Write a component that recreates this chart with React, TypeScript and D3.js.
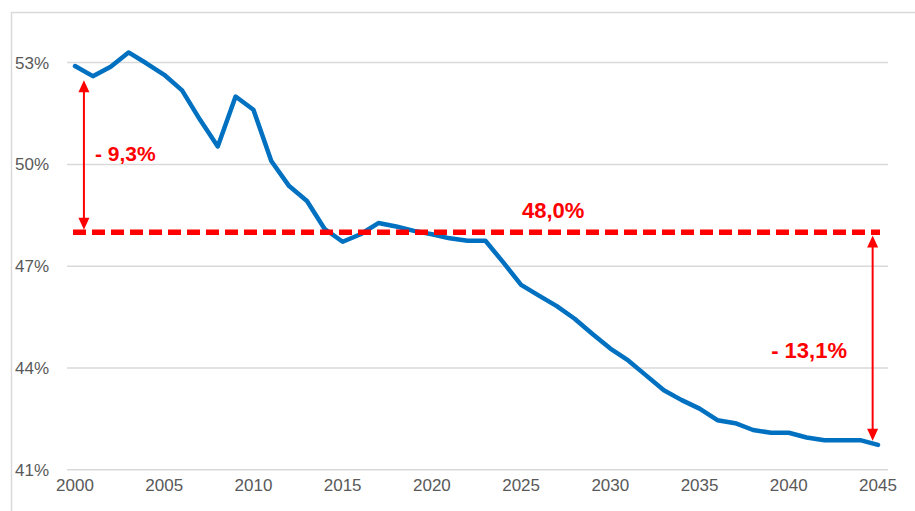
import React from 'react';
import * as d3 from 'd3';

const years = d3.range(2000, 2046);
const shares = [
  52.9, 52.6, 52.88, 53.3, 52.98, 52.64, 52.18, 51.32, 50.53, 52.0,
  51.61, 50.1, 49.36, 48.92, 48.09, 47.72, 47.94, 48.27, 48.17, 48.04,
  47.94, 47.82, 47.75, 47.75, 47.11, 46.45, 46.13, 45.82, 45.45, 45.0,
  44.57, 44.22, 43.78, 43.34, 43.05, 42.8, 42.46, 42.37, 42.17, 42.09,
  42.09, 41.95, 41.87, 41.87, 41.87, 41.73,
];
const yTicks = [41, 44, 47, 50, 53];
const xTicks = [2000, 2005, 2010, 2015, 2020, 2025, 2030, 2035, 2040, 2045];
const baseline = 48.0;
const baseLabel = '48,0%';
const leftDrop = { year: 2000.5, from: 52.48, to: 48.07, label: '- 9,3%' };
const rightDrop = { year: 2044.7, from: 47.9, to: 41.85, label: '- 13,1%' };

const W = 915;
const H = 511;
const BLUE = '#0070C0';
const RED = '#FF0000';
const GRID = '#D9D9D9';
const TEXT = '#595959';
const FONT = '"Liberation Sans", Arial, sans-serif';

const x = d3.scaleLinear().domain([2000, 2045]).range([75, 878]);
const y = d3.scaleLinear().domain([41, 53]).range([469.7, 62.6]);

// vertical arrow with filled heads at both ends
const Arrow: React.FC<{ year: number; from: number; to: number }> = ({ year, from, to }) => {
  const ax = x(year);
  const y1 = y(from);
  const y2 = y(to);
  const head = 12;
  const half = 5.5;
  return (
    <g>
      <line x1={ax} x2={ax} y1={y1 + head - 1} y2={y2 - head + 1} stroke={RED} strokeWidth={2} />
      <path d={`M${ax},${y1} L${ax - half},${y1 + head} L${ax + half},${y1 + head} Z`} fill={RED} />
      <path d={`M${ax},${y2} L${ax - half},${y2 - head} L${ax + half},${y2 - head} Z`} fill={RED} />
    </g>
  );
};

export default function App() {
  const line = d3
    .line<number>()
    .x((_, i) => x(years[i]))
    .y(d => y(d));

  return (
    <div style={{ position: 'fixed', left: 0, top: 0, width: W, height: H, background: '#fff' }}>
      <svg width={W} height={H} style={{ display: 'block', fontFamily: FONT }}>
        <rect x={0} y={0} width={W} height={H} fill="#fff" />
        {/* outer frame, only top and left edges are visible */}
        <path d={`M11.5,${H} L11.5,12.5 L${W},12.5`} fill="none" stroke={GRID} strokeWidth={1.5} />

        {yTicks.map(t => (
          <g key={t}>
            <line x1={67} x2={888} y1={y(t)} y2={y(t)} stroke={GRID} strokeWidth={1.5} />
            <text x={49} y={y(t)} dy="0.36em" textAnchor="end" fontSize={17} fill={TEXT}>
              {t}%
            </text>
          </g>
        ))}

        {xTicks.map(t => (
          <text key={t} x={x(t)} y={491} textAnchor="middle" fontSize={17} fill={TEXT}>
            {t}
          </text>
        ))}

        <path
          d={line(shares) ?? ''}
          fill="none"
          stroke={BLUE}
          strokeWidth={4.5}
          strokeLinejoin="round"
          strokeLinecap="round"
        />

        <line
          x1={x(2000) - 2}
          x2={x(2045) + 2}
          y1={y(baseline)}
          y2={y(baseline)}
          stroke={RED}
          strokeWidth={5.5}
          strokeDasharray="13 6"
        />

        <Arrow {...leftDrop} />
        <Arrow {...rightDrop} />

        <text x={x(2026.8)} y={218} textAnchor="middle" fontSize={22} fontWeight="bold" fill={RED}>
          {baseLabel}
        </text>
        <text x={95} y={161} fontSize={21} fontWeight="bold" fill={RED}>
          {leftDrop.label}
        </text>
        <text x={847} y={358} textAnchor="end" fontSize={22} fontWeight="bold" fill={RED}>
          {rightDrop.label}
        </text>
      </svg>
    </div>
  );
}
